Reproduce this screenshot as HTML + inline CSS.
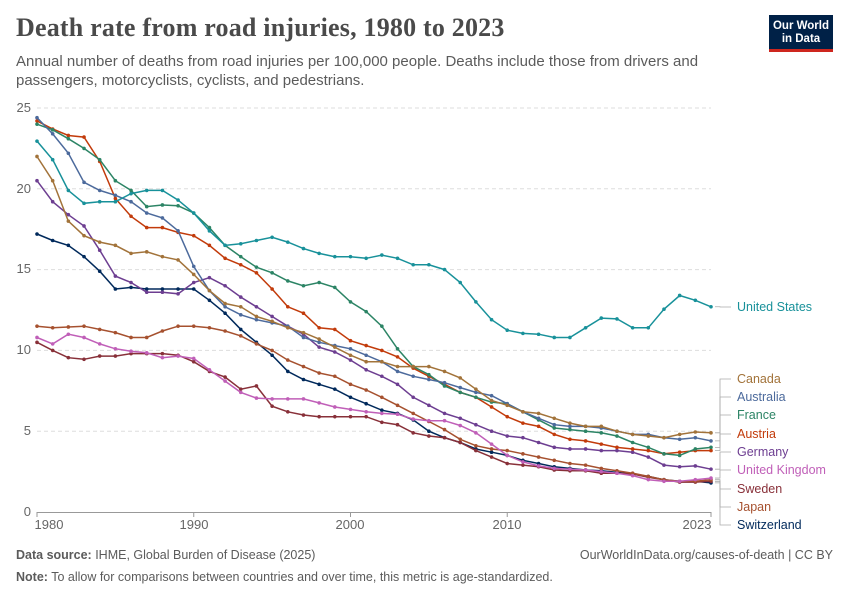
<!DOCTYPE html>
<html><head><meta charset="utf-8"><style>
body{margin:0;background:#fff;width:850px;height:600px;overflow:hidden;font-family:"Liberation Sans",sans-serif}
.t{position:absolute;left:16px;top:13px;font-family:"Liberation Serif",serif;font-size:26px;color:#4a4a4a;font-weight:bold;letter-spacing:0.2px}
.s{position:absolute;left:16px;top:52px;font-size:15px;line-height:19px;color:#5b5b5b;width:700px}
.logo{position:absolute;left:769px;top:15px;width:64px;height:37px;background:#002147;color:#fff;font-size:11.5px;font-weight:bold;line-height:13px;text-align:center;padding-top:5px;box-sizing:border-box;border-bottom:3px solid #ce261e}
.f{position:absolute;font-size:12.5px;color:#5b5b5b}
</style></head><body>
<div class="t">Death rate from road injuries, 1980 to 2023</div>
<div class="s">Annual number of deaths from road injuries per 100,000 people. Deaths include those from drivers and passengers, motorcyclists, cyclists, and pedestrians.</div>
<div class="logo">Our World<br>in Data</div>
<svg id="c" width="850" height="600" style="position:absolute;left:0;top:0" font-family="Liberation Sans, sans-serif" font-size="13">
<g fill="#666" text-anchor="end">
<text x="31" y="516">0</text><text x="31" y="435">5</text><text x="31" y="354">10</text><text x="31" y="273">15</text><text x="31" y="193">20</text><text x="31" y="112">25</text>
</g>
<g fill="#666" text-anchor="middle">
<text x="49" y="529">1980</text><text x="194" y="529">1990</text><text x="350" y="529">2000</text><text x="507" y="529">2010</text><text x="697" y="529">2023</text>
</g>
<g font-size="12.5">
<text x="737" y="311" fill="#18919a">United States</text>
<text x="737" y="383" fill="#a2733a">Canada</text>
<text x="737" y="401" fill="#4c6a9c">Australia</text>
<text x="737" y="419" fill="#2c8465">France</text>
<text x="737" y="438" fill="#c23b0b">Austria</text>
<text x="737" y="456" fill="#6d3e91">Germany</text>
<text x="737" y="474" fill="#c05fb8">United Kingdom</text>
<text x="737" y="493" fill="#883039">Sweden</text>
<text x="737" y="511" fill="#a6512f">Japan</text>
<text x="737" y="529" fill="#00295b">Switzerland</text>
</g>
</svg>
<div class="f" style="left:16px;top:548px"><b>Data source:</b> IHME, Global Burden of Disease (2025)</div>
<div class="f" style="right:17px;top:548px">OurWorldInData.org/causes-of-death | CC BY</div>
<div class="f" style="left:16px;top:570px"><b>Note:</b> To allow for comparisons between countries and over time, this metric is age-standardized.</div>
<script>
var S=[
["#00295b",[17.2,16.8,16.5,15.8,14.9,13.8,13.9,13.8,13.8,13.8,13.8,13.1,12.3,11.3,10.5,9.7,8.7,8.2,7.9,7.6,7.1,6.7,6.3,6.1,5.7,5.0,4.6,4.3,3.9,3.7,3.5,3.2,3.0,2.8,2.7,2.6,2.55,2.45,2.35,2.2,2.0,1.9,1.9,1.8]],
["#883039",[10.5,10.0,9.55,9.45,9.65,9.65,9.8,9.8,9.8,9.7,9.3,8.7,8.35,7.6,7.8,6.55,6.2,6.0,5.9,5.9,5.9,5.9,5.55,5.4,4.9,4.7,4.6,4.3,3.8,3.4,3.0,2.9,2.8,2.6,2.55,2.55,2.4,2.4,2.35,2.15,2.0,1.85,1.85,1.9]],
["#a6512f",[11.5,11.4,11.45,11.5,11.3,11.1,10.8,10.8,11.2,11.5,11.5,11.4,11.2,10.9,10.4,10.0,9.4,9.0,8.6,8.4,7.9,7.55,7.1,6.6,6.1,5.6,5.1,4.5,4.1,3.9,3.8,3.6,3.4,3.2,3.0,2.9,2.7,2.55,2.4,2.2,2.0,1.9,1.9,2.0]],
["#c05fb8",[10.8,10.4,11.0,10.8,10.4,10.1,9.95,9.85,9.55,9.65,9.5,8.8,8.1,7.4,7.05,7.0,7.0,7.0,6.75,6.5,6.35,6.2,6.1,6.05,5.75,5.65,5.65,5.35,4.9,4.2,3.5,3.1,2.85,2.7,2.65,2.6,2.5,2.4,2.25,2.0,1.9,1.9,2.0,2.1]],
["#6d3e91",[20.5,19.2,18.4,17.7,16.2,14.6,14.2,13.6,13.6,13.5,14.2,14.5,14.0,13.3,12.7,12.1,11.5,11.0,10.2,9.9,9.4,8.8,8.4,7.9,7.1,6.6,6.1,5.8,5.4,5.0,4.7,4.6,4.3,4.0,3.9,3.9,3.8,3.8,3.7,3.4,2.9,2.8,2.85,2.65]],
["#c23b0b",[24.2,23.7,23.3,23.2,21.7,19.4,18.3,17.6,17.6,17.3,17.1,16.5,15.7,15.3,14.8,13.8,12.7,12.3,11.4,11.3,10.6,10.3,10.0,9.6,8.9,8.4,7.9,7.4,7.1,6.5,5.9,5.5,5.3,4.8,4.5,4.4,4.2,4.0,3.9,3.8,3.6,3.7,3.8,3.8]],
["#2c8465",[24.0,23.65,23.1,22.5,21.8,20.5,19.9,18.9,19.0,18.95,18.5,17.6,16.5,15.8,15.15,14.8,14.3,14.0,14.2,13.9,13.0,12.4,11.5,10.1,9.0,8.5,7.8,7.4,7.1,6.8,6.7,6.2,5.7,5.2,5.1,5.0,4.9,4.7,4.3,4.0,3.6,3.5,3.9,4.0]],
["#4c6a9c",[24.4,23.4,22.2,20.4,19.9,19.6,19.2,18.5,18.2,17.4,15.2,13.7,12.7,12.2,11.9,11.7,11.5,10.8,10.5,10.3,10.1,9.7,9.3,8.7,8.4,8.2,8.0,7.7,7.4,7.2,6.7,6.2,5.8,5.4,5.3,5.3,5.2,5.0,4.8,4.8,4.6,4.5,4.6,4.4]],
["#a2733a",[22.0,20.5,18.0,17.1,16.7,16.5,16.0,16.1,15.8,15.6,14.7,13.7,12.9,12.7,12.1,11.8,11.4,11.1,10.7,10.2,9.7,9.3,9.3,9.0,9.0,9.0,8.7,8.3,7.6,6.9,6.6,6.2,6.1,5.8,5.5,5.3,5.3,5.0,4.8,4.7,4.6,4.8,4.95,4.9]],
["#18919a",[22.95,21.8,19.9,19.1,19.2,19.2,19.7,19.9,19.9,19.3,18.5,17.4,16.5,16.6,16.8,17.0,16.7,16.3,16.0,15.8,15.8,15.7,15.9,15.7,15.3,15.3,15.0,14.2,13.0,11.9,11.25,11.05,11.0,10.8,10.8,11.4,12.0,11.95,11.4,11.4,12.55,13.4,13.1,12.7]]
];
var ns="http://www.w3.org/2000/svg",svg=document.getElementById('c');
function el(n,a){var e=document.createElementNS(ns,n);for(var k in a)e.setAttribute(k,a[k]);svg.insertBefore(e,svg.firstChild);return e;}
function X(i){return 37+i*(674/43);}function Y(v){return 512-v*16.16;}
S.forEach(function(s){var d='';s[1].forEach(function(v,i){d+=(i?'L':'M')+X(i).toFixed(1)+' '+Y(v).toFixed(1);});
 var gg=document.createElementNS(ns,'g');gg.setAttribute('fill',s[0]);
 var p=document.createElementNS(ns,'path');p.setAttribute('d',d);p.setAttribute('stroke',s[0]);p.setAttribute('stroke-width','1.5');p.setAttribute('fill','none');gg.appendChild(p);
 s[1].forEach(function(v,i){var c=document.createElementNS(ns,'circle');c.setAttribute('cx',X(i));c.setAttribute('cy',Y(v));c.setAttribute('r','1.8');gg.appendChild(c);});
 svg.appendChild(gg);});
var lab=[[12.7,307],[4.9,379],[4.4,397],[4.0,415],[3.8,434],[2.65,452],[2.1,470],[1.9,489],[2.0,507],[1.8,525]];
lab.forEach(function(l){var y0=Y(l[0]);var p=document.createElementNS(ns,'path');p.setAttribute('d','M715 '+y0+'L720 '+y0+'L720 '+(l[1])+'L731 '+l[1]);p.setAttribute('stroke','#aaa');p.setAttribute('stroke-width','0.8');p.setAttribute('fill','none');svg.appendChild(p);});
[5,10,15,20,25].forEach(function(v){el('line',{x1:37,x2:711,y1:Y(v),y2:Y(v),stroke:'#ddd','stroke-dasharray':'4,3'});});
el('line',{x1:37,x2:711,y1:512.5,y2:512.5,stroke:'#999'});
[0,10,20,30,43].forEach(function(i){el('line',{x1:X(i),x2:X(i),y1:512,y2:517,stroke:'#999'});});
</script>
</body></html>
